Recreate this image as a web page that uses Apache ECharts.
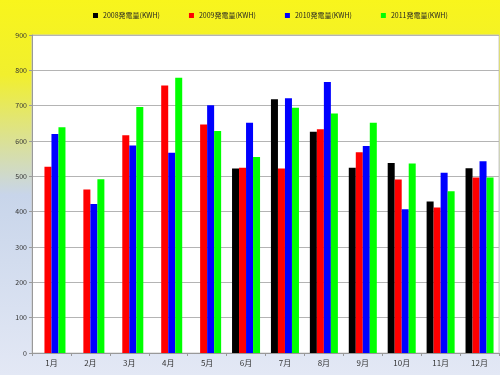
<!DOCTYPE html>
<html>
<head>
<meta charset="utf-8">
<script src="https://cdn.jsdelivr.net/npm/echarts@6/dist/echarts.min.js"></script>
<style>
html,body{margin:0;padding:0;}
#chart{width:500px;height:375px;}
</style>
</head>
<body>
<div id="chart"></div>
<script>
const categories = ['1月','2月','3月','4月','5月','6月','7月','8月','9月','10月','11月','12月'];
const seriesNames = ['2008発電量(KWH)','2009発電量(KWH)','2010発電量(KWH)','2011発電量(KWH)'];
const values2008 = [null,null,null,null,null,522,718,626,524,538,429,523];
const values2009 = [527,463,616,757,647,524,522,633,568,491,412,497];
const values2010 = [620,422,587,567,701,652,721,767,586,407,510,543];
const values2011 = [639,492,696,779,628,555,694,678,652,536,458,497];
const yTicks = [0,100,200,300,400,500,600,700,800,900];

const colors = ['#000000','#ff0000','#0000ff','#00ff00'];
const allValues = [values2008, values2009, values2010, values2011];
const font = '"Noto Sans CJK JP", sans-serif';

const chart = echarts.init(document.getElementById('chart'));
chart.setOption({
  backgroundColor: {
    type: 'linear', x: 0, y: 0, x2: 0, y2: 1,
    colorStops: [
      {offset: 0, color: '#f8f51c'},
      {offset: 0.2, color: '#f1ef2e'},
      {offset: 0.52, color: '#c8d5ea'},
      {offset: 1, color: '#e3e8f5'}
    ]
  },
  animation: false,
  color: colors,
  textStyle: {fontFamily: font},
  legend: {
    top: 7,
    left: 88,
    itemWidth: 5,
    itemHeight: 5,
    itemGap: 29,
    itemTextGap: 2,
    icon: 'rect',
    textStyle: {fontSize: 7, color: '#222', fontFamily: font},
    data: seriesNames
  },
  grid: {
    left: 32, right: 1, top: 35, bottom: 22,
    show: true,
    backgroundColor: '#ffffff',
    borderColor: '#c8c8c8',
    borderWidth: 1
  },
  xAxis: {
    type: 'category',
    data: categories,
    axisLine: {lineStyle: {color: '#999'}},
    axisTick: {show: true, length: 3, lineStyle: {color: '#999'}},
    axisLabel: {fontSize: 8, color: '#333', margin: 6}
  },
  yAxis: {
    type: 'value',
    min: yTicks[0],
    max: yTicks[yTicks.length - 1],
    interval: 100,
    axisLine: {show: true, lineStyle: {color: '#999'}},
    axisTick: {show: true, length: 3, lineStyle: {color: '#999'}},
    axisLabel: {fontSize: 7, color: '#333', margin: 5},
    splitLine: {lineStyle: {color: '#b4b4b4'}}
  },
  series: seriesNames.map((name, i) => ({
    name: name,
    type: 'bar',
    data: allValues[i],
    barGap: '0%',
    barCategoryGap: '28%',
    itemStyle: {color: colors[i]}
  }))
});
</script>
</body>
</html>
